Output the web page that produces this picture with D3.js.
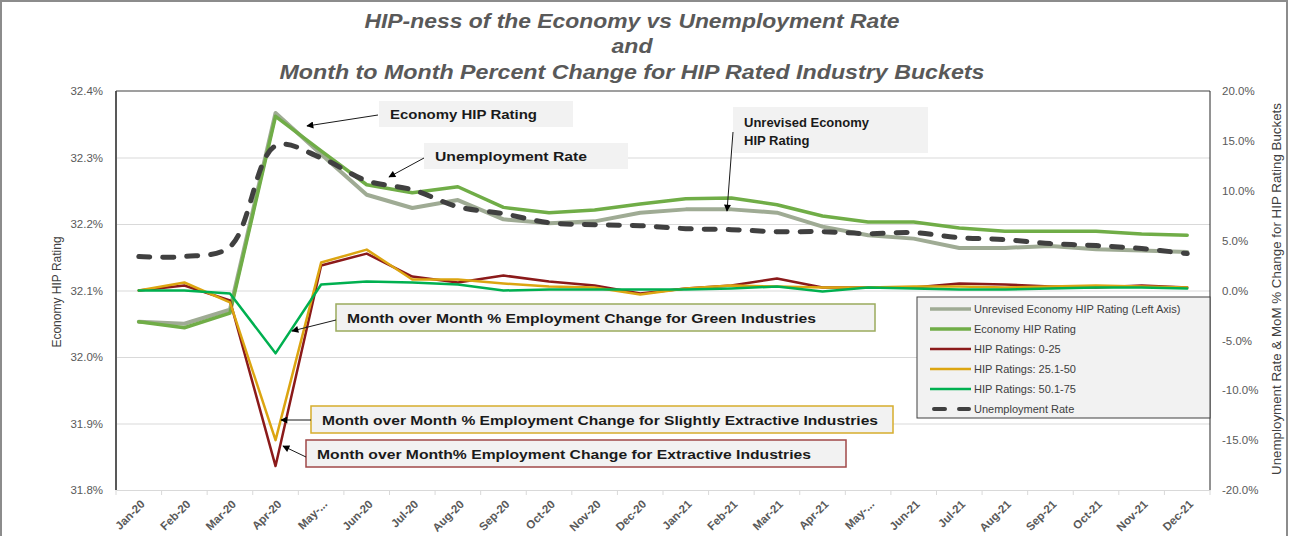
<!DOCTYPE html>
<html>
<head>
<meta charset="utf-8">
<script src="https://cdn.jsdelivr.net/npm/d3@7"></script>
<style>
  body { margin: 0; background: #fff; }
  svg { display: block; font-family: "Liberation Sans", Arial, sans-serif; }
</style>
</head>
<body>
<div id="chart"></div>
<script>
// Data
var months = ["Jan-20","Feb-20","Mar-20","Apr-20","May-20","Jun-20","Jul-20","Aug-20","Sep-20","Oct-20","Nov-20","Dec-20",
              "Jan-21","Feb-21","Mar-21","Apr-21","May-21","Jun-21","Jul-21","Aug-21","Sep-21","Oct-21","Nov-21","Dec-21"];
var tickLabels = ["Jan-20","Feb-20","Mar-20","Apr-20","May-...","Jun-20","Jul-20","Aug-20","Sep-20","Oct-20","Nov-20","Dec-20",
                  "Jan-21","Feb-21","Mar-21","Apr-21","May-...","Jun-21","Jul-21","Aug-21","Sep-21","Oct-21","Nov-21","Dec-21"];

// left axis (%)
var unrevisedHip = [32.053,32.050,32.071,32.367,32.305,32.244,32.224,32.236,32.207,32.201,32.204,32.217,
                    32.222,32.222,32.217,32.196,32.183,32.178,32.164,32.164,32.167,32.162,32.160,32.158];
var economyHip   = [32.053,32.044,32.066,32.362,32.310,32.259,32.247,32.256,32.225,32.217,32.221,32.230,
                    32.238,32.239,32.229,32.212,32.203,32.203,32.194,32.189,32.189,32.189,32.185,32.183];
// right axis (%)
var hip0to25   = [0,0.5,-1.0,-17.6,2.5,3.7,1.4,0.8,1.5,0.9,0.5,-0.3,0.2,0.5,1.2,0.3,0.3,0.3,0.7,0.6,0.4,0.3,0.5,0.3];
var hip25to50  = [0,0.8,-1.2,-15.0,2.8,4.1,1.1,1.1,0.7,0.4,0.3,-0.4,0.2,0.5,0.4,0.3,0.3,0.4,0.4,0.3,0.4,0.5,0.4,0.3];
var hip50to75  = [0,0,-0.3,-6.3,0.6,0.9,0.8,0.6,0.0,0.1,0.1,0.1,0.1,0.2,0.4,-0.1,0.3,0.2,0.1,0.1,0.2,0.3,0.3,0.2];
var unemployment = [3.4,3.4,4.4,14.5,13.3,11.0,10.1,8.4,7.7,6.8,6.6,6.5,6.2,6.1,5.9,5.9,5.7,5.8,5.3,5.1,4.7,4.5,4.2,3.7];

var leftTicks = [31.8,31.9,32.0,32.1,32.2,32.3,32.4];
var rightTicks = [-20,-15,-10,-5,0,5,10,15,20];

var svgWidth = 1291, svgHeight = 536;
var margin = {top: 91, right: 81, bottom: 46, left: 116};
var width = svgWidth - margin.left - margin.right;
var height = svgHeight - margin.top - margin.bottom;

var svg = d3.select("#chart").append("svg")
  .attr("width", svgWidth)
  .attr("height", svgHeight);

// arrow marker
svg.append("defs").append("marker")
  .attr("id", "arrow")
  .attr("viewBox", "0 0 10 10")
  .attr("refX", 9).attr("refY", 5)
  .attr("markerWidth", 9).attr("markerHeight", 7)
  .attr("markerUnits", "userSpaceOnUse")
  .attr("orient", "auto")
  .append("path").attr("d", "M0,0 L10,5 L0,10 z").attr("fill", "#000");

// outer frame
svg.append("rect")
  .attr("x", 1).attr("y", 1).attr("width", 1286).attr("height", 560)
  .attr("fill", "none").attr("stroke", "#8c8c8c").attr("stroke-width", 2);

// titles
var titles = [
  {t: "HIP-ness of the Economy vs Unemployment Rate", y: 28, w: 535},
  {t: "and", y: 53, w: 41},
  {t: "Month to Month Percent Change for HIP Rated Industry Buckets", y: 79, w: 705}
];
svg.selectAll(".title").data(titles).enter().append("text")
  .attr("x", 632).attr("y", d => d.y)
  .attr("text-anchor", "middle")
  .attr("textLength", d => d.w)
  .attr("lengthAdjust", "spacingAndGlyphs")
  .style("font-size", "20px").style("font-weight", "bold").style("font-style", "italic")
  .attr("fill", "#595959")
  .text(d => d.t);

var chartGroup = svg.append("g")
  .attr("transform", `translate(${margin.left}, ${margin.top})`);

// scales
var xBand = d3.scaleBand().domain(months).range([0, width]);
var xPos = i => xBand(months[i]) + xBand.bandwidth() / 2;
var yLeft = d3.scaleLinear().domain([31.8, 32.4]).range([height, 0]);
var yRight = d3.scaleLinear().domain([-20, 20]).range([height, 0]);

// gridlines
chartGroup.append("g")
  .call(d3.axisLeft(yLeft).tickValues(leftTicks.slice(1, -1)).tickSize(-width).tickFormat(""))
  .call(g => g.select(".domain").remove())
  .selectAll("line").attr("stroke", "#d9d9d9").attr("stroke-width", 1);

// axes
var fmt = d => d.toFixed(1) + "%";
chartGroup.append("g")
  .call(d3.axisLeft(yLeft).tickValues(leftTicks).tickSize(0).tickPadding(13).tickFormat(fmt))
  .call(g => g.select(".domain").remove())
  .selectAll("text").style("font-size", "11.5px").attr("fill", "#595959");

chartGroup.append("g")
  .attr("transform", `translate(${width}, 0)`)
  .call(d3.axisRight(yRight).tickValues(rightTicks).tickSize(0).tickPadding(12).tickFormat(fmt))
  .call(g => g.select(".domain").remove())
  .selectAll("text").style("font-size", "11.5px").attr("fill", "#595959");

var xAxis = chartGroup.append("g")
  .attr("transform", `translate(0, ${height})`)
  .call(d3.axisBottom(xBand).tickSize(0).tickFormat((d, i) => tickLabels[i]));
xAxis.select(".domain").attr("stroke", "#d9d9d9");
xAxis.selectAll("text")
  .attr("text-anchor", "end")
  .attr("x", 0).attr("y", 0).attr("dy", "0.35em")
  .attr("transform", "translate(4,12) rotate(-45)")
  .style("font-size", "11.5px").style("font-weight", "bold")
  .attr("fill", "#595959");

chartGroup.selectAll(".xtick").data(d3.range(months.length + 1)).enter().append("line")
  .attr("x1", i => i * xBand.step()).attr("x2", i => i * xBand.step())
  .attr("y1", height).attr("y2", height + 5)
  .attr("stroke", "#d9d9d9");

// plot frame
chartGroup.append("line").attr("x1", 0).attr("x2", 0).attr("y1", 0).attr("y2", height)
  .attr("stroke", "#595959").attr("stroke-width", 2);
chartGroup.append("line").attr("x1", 0).attr("x2", width).attr("y1", 0).attr("y2", 0)
  .attr("stroke", "#404040").attr("stroke-width", 1.2);
chartGroup.append("line").attr("x1", width).attr("x2", width).attr("y1", 0).attr("y2", height)
  .attr("stroke", "#262626").attr("stroke-width", 1);

// axis titles
svg.append("text")
  .attr("transform", "translate(61, 292) rotate(-90)")
  .attr("text-anchor", "middle")
  .style("font-size", "12px").attr("fill", "#404040")
  .text("Economy HIP Rating");
svg.append("text")
  .attr("transform", "translate(1281, 289) rotate(-90)")
  .attr("text-anchor", "middle")
  .attr("textLength", 372).attr("lengthAdjust", "spacingAndGlyphs")
  .style("font-size", "12.5px").attr("fill", "#404040")
  .text("Unemployment Rate &  MoM % Change for HIP Rating Buckets");

// series
var series = [
  {name: "Unrevised Economy HIP Rating (Left Axis)", values: unrevisedHip, y: yLeft, color: "#9fab94", w: 4, dash: null},
  {name: "Economy HIP Rating", values: economyHip, y: yLeft, color: "#70ad47", w: 3.5, dash: null},
  {name: "HIP Ratings: 0-25", values: hip0to25, y: yRight, color: "#8b1a1a", w: 2.5, dash: null},
  {name: "HIP Ratings: 25.1-50", values: hip25to50, y: yRight, color: "#dca511", w: 2.5, dash: null},
  {name: "HIP Ratings: 50.1-75", values: hip50to75, y: yRight, color: "#00b050", w: 2.5, dash: null},
  {name: "Unemployment Rate", values: unemployment, y: yRight, color: "#404040", w: 5, dash: "11,13", smooth: true}
];

series.forEach(function(s) {
  var line = d3.line()
    .x((d, i) => xPos(i))
    .y(d => s.y(d))
    .curve(s.smooth ? d3.curveCatmullRom.alpha(0.5) : d3.curveLinear);
  chartGroup.append("path")
    .datum(s.values)
    .attr("d", line)
    .attr("fill", "none")
    .attr("stroke", s.color)
    .attr("stroke-width", s.w)
    .attr("stroke-linejoin", "round")
    .attr("stroke-linecap", "round")
    .attr("stroke-dasharray", s.dash);
});

// annotations
var notes = [
  {lines: ["Economy HIP Rating"], x: 379, y: 101, w: 194, h: 26, tw: 147, border: null, arrow: [378,115,307,126]},
  {lines: ["Unemployment Rate"], x: 424, y: 143, w: 204, h: 26, tw: 152, border: null, arrow: [424,158,389,177]},
  {lines: ["Unrevised Economy", "HIP Rating"], x: 733, y: 107, w: 195, h: 46, tw: null, border: null, arrow: [733,132,727,211]},
  {lines: ["Month over Month % Employment Change for Green Industries"], x: 336, y: 304, w: 539, h: 27, tw: 469, border: "#9bab5d", arrow: [336,320,292,331]},
  {lines: ["Month over Month % Employment Change for Slightly Extractive Industries"], x: 311, y: 406, w: 582, h: 27, tw: 556, border: "#d6ad2c", arrow: [311,420,281,420]},
  {lines: ["Month over Month% Employment Change for Extractive Industries"], x: 306, y: 440, w: 540, h: 27, tw: 494, border: "#a04848", arrow: [306,457,283,446]}
];

notes.forEach(function(n) {
  svg.append("rect")
    .attr("x", n.x).attr("y", n.y).attr("width", n.w).attr("height", n.h)
    .attr("fill", "#f2f2f2")
    .attr("stroke", n.border || "none").attr("stroke-width", 1.5);
  var t = svg.append("text")
    .style("font-size", "13px").style("font-weight", "bold").attr("fill", "#1a1a1a");
  n.lines.forEach(function(l, i) {
    var ts = t.append("tspan")
      .attr("x", n.x + 11)
      .attr("y", n.y + (n.lines.length > 1 ? 20 + i * 18 : n.h / 2 + 5))
      .text(l);
    if (n.tw) ts.attr("textLength", n.tw).attr("lengthAdjust", "spacingAndGlyphs");
  });
  svg.append("line")
    .attr("x1", n.arrow[0]).attr("y1", n.arrow[1]).attr("x2", n.arrow[2]).attr("y2", n.arrow[3])
    .attr("stroke", "#1a1a1a").attr("stroke-width", 1)
    .attr("marker-end", "url(#arrow)");
});

// legend
var legend = svg.append("g").attr("transform", "translate(917, 297)");
legend.append("rect")
  .attr("width", 293).attr("height", 121)
  .attr("fill", "#f2f2f2").attr("stroke", "#404040").attr("stroke-width", 1);
var items = legend.selectAll(".item").data(series).enter().append("g")
  .attr("transform", (d, i) => `translate(0, ${12 + i * 20})`);
items.append("line")
  .attr("x1", d => d.dash ? 17 : 13).attr("x2", d => d.dash ? 52 : 54)
  .attr("stroke", d => d.color)
  .attr("stroke-width", d => d.dash ? 4 : (d.w > 3 ? 3.5 : 2.5))
  .attr("stroke-linecap", d => d.dash ? "round" : "butt")
  .attr("stroke-dasharray", d => d.dash ? "11,14" : null);
items.append("text")
  .attr("x", 57).attr("y", 4)
  .style("font-size", "11px").attr("fill", "#404040")
  .text(d => d.name);
</script>
</body>
</html>
